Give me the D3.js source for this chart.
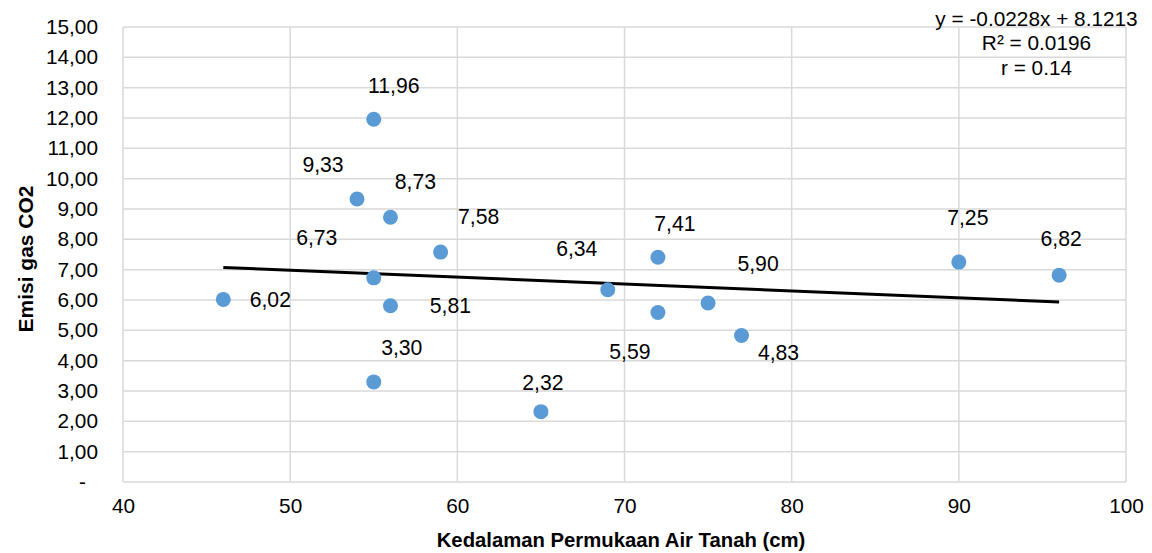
<!DOCTYPE html>
<html>
<head>
<meta charset="utf-8">
<script src="https://cdn.jsdelivr.net/npm/d3@7"></script>
<style>
  html, body { margin: 0; padding: 0; background: #fff; }
  svg { display: block; font-family: "Liberation Sans", Arial, sans-serif; }
</style>
</head>
<body>
<svg id="chart" width="1152" height="553"></svg>
<script>
// ---- data ----
const depth = [55, 54, 56, 59, 55, 46, 56, 55, 65, 69, 72, 72, 75, 77, 90, 96];
const emission = [11.96, 9.33, 8.73, 7.58, 6.73, 6.02, 5.81, 3.30, 2.32, 6.34, 7.41, 5.59, 5.90, 4.83, 7.25, 6.82];
const xTicks = [40, 50, 60, 70, 80, 90, 100];
const yTicks = [0, 1, 2, 3, 4, 5, 6, 7, 8, 9, 10, 11, 12, 13, 14, 15];
const trendSlope = -0.0228;
const trendIntercept = 8.1213;
const statLines = ["y = -0.0228x + 8.1213", "R² = 0.0196", "r = 0.14"];
const xTitle = "Kedalaman Permukaan Air Tanah (cm)";
const yTitle = "Emisi gas CO2";
// label placement offsets (pixels, relative to each point)
const labelDx = [20, -34, 25, 38, -57, 47, 60, 28, 2, -31, 17, -28, 50, 37, 9, 2];
const labelDy = [-34, -34, -36, -36, -40, 0, 0, -34, -29, -41, -34, 39, -40, 17, -45, -37];

(function () {
// ---- layout ----
const svg = d3.select("#chart");
const pLeft = 123, pRight = 1126, pTop = 27, pBottom = 482;
const x = d3.scaleLinear().domain([40, 100]).range([pLeft, pRight]);
const y = d3.scaleLinear().domain([0, 15]).range([pBottom, pTop]);
const fmt = v => v === 0 ? "-" : v.toFixed(2).replace(".", ",");
const gridColor = "#d9d9d9";
const fs = 20.8;

// gridlines
svg.append("g").selectAll("line").data(yTicks).join("line")
  .attr("x1", pLeft).attr("x2", pRight)
  .attr("y1", d => y(d)).attr("y2", d => y(d))
  .attr("stroke", gridColor).attr("stroke-width", 1.5);
svg.append("g").selectAll("line").data(xTicks).join("line")
  .attr("x1", d => x(d)).attr("x2", d => x(d))
  .attr("y1", pTop).attr("y2", pBottom)
  .attr("stroke", gridColor).attr("stroke-width", 1.5);

// axes (labels only)
const yAxis = svg.append("g").attr("transform", `translate(${pLeft},0)`)
  .call(d3.axisLeft(y).tickValues(yTicks).tickFormat(fmt).tickSize(0).tickPadding(25));
yAxis.select(".domain").remove();
yAxis.selectAll("text").attr("font-size", fs).attr("fill", "#000")
  .attr("font-family", "Liberation Sans, Arial, sans-serif")
  .attr("dx", d => d === 0 ? -12 : 0);

const xAxis = svg.append("g").attr("transform", `translate(0,${pBottom})`)
  .call(d3.axisBottom(x).tickValues(xTicks).tickFormat(d3.format("d")).tickSize(0).tickPadding(16));
xAxis.select(".domain").remove();
xAxis.selectAll("text").attr("font-size", fs).attr("fill", "#000")
  .attr("font-family", "Liberation Sans, Arial, sans-serif");

// trendline
const xMin = d3.min(depth), xMax = d3.max(depth);
svg.append("line")
  .attr("x1", x(xMin)).attr("y1", y(trendSlope * xMin + trendIntercept))
  .attr("x2", x(xMax)).attr("y2", y(trendSlope * xMax + trendIntercept))
  .attr("stroke", "#000").attr("stroke-width", 3);

// points
const pts = depth.map((d, i) => ({ x: d, y: emission[i], i }));
svg.append("g").selectAll("circle").data(pts).join("circle")
  .attr("cx", d => x(d.x)).attr("cy", d => y(d.y)).attr("r", 7.5)
  .attr("fill", "#5b9bd5");

// data labels
svg.append("g").selectAll("text").data(pts).join("text")
  .attr("x", d => x(d.x) + labelDx[d.i])
  .attr("y", d => y(d.y) + labelDy[d.i])
  .attr("text-anchor", "middle").attr("dominant-baseline", "central")
  .attr("font-size", 21.2).attr("fill", "#000")
  .text(d => fmt(d.y));

// stats text
svg.append("g").selectAll("text").data(statLines).join("text")
  .attr("x", 1036.5).attr("y", (d, i) => 18 + i * 24.5)
  .attr("text-anchor", "middle").attr("dominant-baseline", "central")
  .attr("font-size", fs).attr("fill", "#000")
  .text(d => d);

// axis titles
svg.append("text")
  .attr("x", 621).attr("y", 540)
  .attr("text-anchor", "middle").attr("dominant-baseline", "central")
  .attr("font-size", 20.3).attr("font-weight", "bold").attr("fill", "#000")
  .text(xTitle);
svg.append("text")
  .attr("transform", `translate(25,259) rotate(-90)`)
  .attr("text-anchor", "middle").attr("dominant-baseline", "central")
  .attr("font-size", 21).attr("font-weight", "bold").attr("fill", "#000")
  .text(yTitle);
})();
</script>
</body>
</html>
